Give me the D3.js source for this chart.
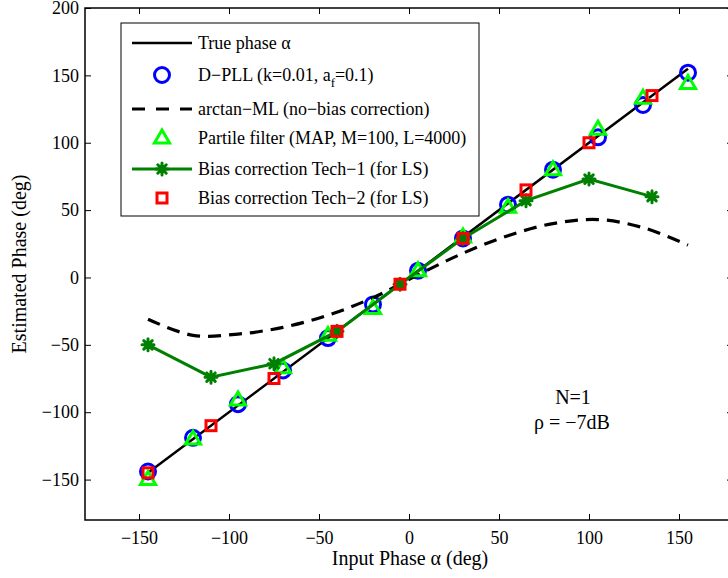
<!DOCTYPE html>
<html>
<head>
<meta charset="utf-8">
<script src="https://cdn.jsdelivr.net/npm/d3@7"></script>
<style>
  html, body { margin: 0; padding: 0; background: #fff; }
  svg { display: block; font-family: "Liberation Serif", "Times New Roman", serif; }
</style>
</head>
<body>
<svg id="chart" width="728" height="578"></svg>
<script>
// ── Data ───────────────────────────────────────────────
const trueX    = [-145, 155];
const pllX     = [-145, -120, -95, -70, -45, -20, 5, 30, 55, 80, 105, 130, 155];
const pllY     = [-144, -119, -94, -69, -45, -20, 5, 29, 54, 80, 104, 128, 152];
const mlY      = [-31, -43, -42, -37, -28, -15, 2, 18, 31, 40, 43, 37, 24];
const pfY      = [-150, -120, -91, -67, -43, -23, 5, 30, 52, 80, 110, 133, 144];
const techX    = [-145, -110, -75, -40, -5, 30, 65, 100, 135];
const tech1Y   = [-50, -74, -64, -40, -5, 29, 57, 73, 60];
const tech2Y   = [-145, -110, -75, -40, -5, 29, 65, 100, 135];
const xTicks   = [-150, -100, -50, 0, 50, 100, 150];
const yTicks   = [-150, -100, -50, 0, 50, 100, 150, 200];

const COL = { blue: '#0000ff', lime: '#00ff00', dgreen: '#008000', red: '#ff0000' };

const svg = d3.select('#chart');
const M = { left: 85, top: 8, right: 733, bottom: 520 };

const x = d3.scaleLinear().domain([-180, 180]).range([M.left, M.right]);
const y = d3.scaleLinear().domain([-180, 200]).range([M.bottom, M.top]);

const zip = (xs, ys) => xs.map((v, i) => [v, ys[i]]);
const line = d3.line().x(d => x(d[0])).y(d => y(d[1]));
const minus = d => d < 0 ? '\u2212' + Math.abs(d) : d;

// ── Axes (MATLAB style: ticks inside, box all round) ───
const g = svg.append('g');
const TICK = 6;

g.append('rect')
  .attr('x', M.left).attr('y', M.top)
  .attr('width', M.right - M.left).attr('height', M.bottom - M.top)
  .attr('fill', 'none').attr('stroke', '#000').attr('stroke-width', 1.5);

const xAxB = g.append('g').attr('transform', `translate(0,${M.bottom})`)
  .call(d3.axisBottom(x).tickValues(xTicks).tickSizeInner(-TICK).tickSizeOuter(0).tickPadding(11).tickFormat(minus));
const xAxT = g.append('g').attr('transform', `translate(0,${M.top})`)
  .call(d3.axisTop(x).tickValues(xTicks).tickSizeInner(-TICK).tickSizeOuter(0).tickFormat(''));
const yAxL = g.append('g').attr('transform', `translate(${M.left},0)`)
  .call(d3.axisLeft(y).tickValues(yTicks).tickSizeInner(-TICK).tickSizeOuter(0).tickPadding(6).tickFormat(minus));
const yAxR = g.append('g').attr('transform', `translate(${M.right},0)`)
  .call(d3.axisRight(y).tickValues(yTicks).tickSizeInner(-TICK).tickSizeOuter(0).tickFormat(''));

[xAxB, xAxT, yAxL, yAxR].forEach(a => {
  a.select('.domain').remove();
  a.selectAll('line').attr('stroke', '#000').attr('stroke-width', 1);
  a.selectAll('text').attr('font-family', '"Liberation Serif", serif').attr('font-size', 18).attr('fill', '#000');
});

// axis titles
svg.append('text')
  .attr('x', 410).attr('y', 565)
  .attr('text-anchor', 'middle').attr('font-size', 20)
  .text('Input Phase \u03b1 (deg)');
svg.append('text')
  .attr('transform', `translate(26,${(M.top + M.bottom) / 2}) rotate(-90)`)
  .attr('text-anchor', 'middle').attr('font-size', 20)
  .text('Estimated Phase (deg)');

// ── Marker helpers ─────────────────────────────────────
function circle(sel, r) {
  sel.append('circle').attr('r', r).attr('fill', 'none').attr('stroke', COL.blue).attr('stroke-width', 3);
}
function triangle(sel, s) {
  sel.append('path')
    .attr('d', `M0,${-s}L${s * 0.95},${s * 0.62}L${-s * 0.95},${s * 0.62}Z`)
    .attr('fill', 'none').attr('stroke', COL.lime).attr('stroke-width', 3).attr('stroke-linejoin', 'miter');
}
function square(sel, s) {
  sel.append('rect').attr('x', -s).attr('y', -s).attr('width', 2 * s).attr('height', 2 * s)
    .attr('fill', 'none').attr('stroke', COL.red).attr('stroke-width', 3);
}
function star(sel, s) {
  const d = s * 0.707;
  sel.append('path')
    .attr('d', `M${-s},0L${s},0M0,${-s}L0,${s}M${-d},${-d}L${d},${d}M${-d},${d}L${d},${-d}`)
    .attr('stroke', COL.dgreen).attr('stroke-width', 3).attr('stroke-linecap', 'round');
}

// ── Series ─────────────────────────────────────────────
const plot = svg.append('g');

// True phase
plot.append('path').datum(zip(trueX, trueX)).attr('d', line)
  .attr('fill', 'none').attr('stroke', '#000').attr('stroke-width', 2.5);

// D-PLL
plot.append('g').selectAll('g').data(zip(pllX, pllY)).join('g')
  .attr('transform', d => `translate(${x(d[0])},${y(d[1])})`)
  .each(function () { circle(d3.select(this), 7.5); });

// arctan-ML
plot.append('path').datum(zip(pllX, mlY)).attr('d', line.curve(d3.curveCatmullRom))
  .attr('fill', 'none').attr('stroke', '#000').attr('stroke-width', 3.2).attr('stroke-dasharray', '13,8');
line.curve(d3.curveLinear);

// Particle filter
plot.append('g').selectAll('g').data(zip(pllX, pfY)).join('g')
  .attr('transform', d => `translate(${x(d[0])},${y(d[1])})`)
  .each(function () { triangle(d3.select(this), 8); });

// Tech-1
plot.append('path').datum(zip(techX, tech1Y)).attr('d', line)
  .attr('fill', 'none').attr('stroke', COL.dgreen).attr('stroke-width', 3);
plot.append('g').selectAll('g').data(zip(techX, tech1Y)).join('g')
  .attr('transform', d => `translate(${x(d[0])},${y(d[1])})`)
  .each(function () { star(d3.select(this), 6); });

// Tech-2
plot.append('g').selectAll('g').data(zip(techX, tech2Y)).join('g')
  .attr('transform', d => `translate(${x(d[0])},${y(d[1])})`)
  .each(function () { square(d3.select(this), 5); });

// ── Legend ─────────────────────────────────────────────
const leg = svg.append('g');
leg.append('rect').attr('x', 121).attr('y', 23).attr('width', 358).attr('height', 193)
  .attr('fill', '#fff').attr('stroke', '#000').attr('stroke-width', 1);

const rows = [
  { y: 43,  kind: 'solid',  label: 'True phase \u03b1' },
  { y: 75,  kind: 'circle', label: null },
  { y: 109, kind: 'dash',   label: 'arctan\u2212ML (no\u2212bias correction)' },
  { y: 138, kind: 'tri',    label: 'Partile filter (MAP, M=100, L=4000)' },
  { y: 169, kind: 'star',   label: 'Bias correction Tech\u22121 (for LS)' },
  { y: 198, kind: 'sq',     label: 'Bias correction Tech\u22122 (for LS)' }
];
const LX0 = 132, LX1 = 192, LM = 162, TX = 198;

rows.forEach(r => {
  const row = leg.append('g');
  if (r.kind === 'solid')
    row.append('line').attr('x1', LX0).attr('x2', LX1).attr('y1', r.y).attr('y2', r.y)
      .attr('stroke', '#000').attr('stroke-width', 2.5);
  if (r.kind === 'dash')
    row.append('line').attr('x1', LX0).attr('x2', LX1).attr('y1', r.y).attr('y2', r.y)
      .attr('stroke', '#000').attr('stroke-width', 3.2).attr('stroke-dasharray', '13,11');
  if (r.kind === 'star')
    row.append('line').attr('x1', LX0).attr('x2', LX1).attr('y1', r.y).attr('y2', r.y)
      .attr('stroke', COL.dgreen).attr('stroke-width', 3);
  const mk = row.append('g').attr('transform', `translate(${LM},${r.y})`);
  if (r.kind === 'circle') circle(mk, 7.5);
  if (r.kind === 'tri') triangle(mk, 8);
  if (r.kind === 'star') star(mk, 6);
  if (r.kind === 'sq') square(mk, 5);

  const t = row.append('text').attr('x', TX).attr('y', r.y + 6).attr('font-size', 18);
  if (r.label) t.text(r.label);
  else {
    t.append('tspan').text('D\u2212PLL (k=0.01, a');
    t.append('tspan').attr('font-size', 13).attr('dy', 6).text('f');
    t.append('tspan').attr('dy', -6).text('=0.1)');
  }
});

// ── Annotation ─────────────────────────────────────────
svg.append('text').attr('x', 573).attr('y', 404).attr('text-anchor', 'middle').attr('font-size', 20).text('N=1');
svg.append('text').attr('x', 572).attr('y', 429).attr('text-anchor', 'middle').attr('font-size', 20).text('\u03c1 = \u22127dB');
</script>
</body>
</html>
